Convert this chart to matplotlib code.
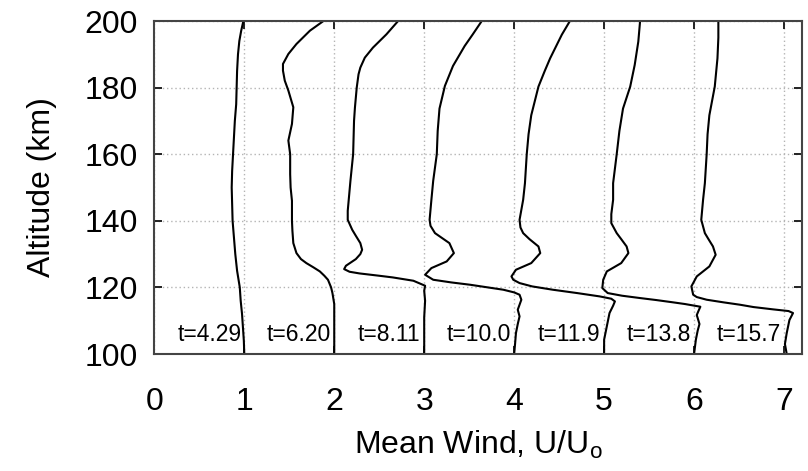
import matplotlib
matplotlib.use("Agg")
import matplotlib.pyplot as plt

plt.rcParams["font.family"] = ["Liberation Sans", "DejaVu Sans"]
plt.rcParams["mathtext.fontset"] = "custom"
plt.rcParams["mathtext.rm"] = "Liberation Sans"

# Mean wind profiles (U/U0) at successive times; each profile is shifted right by its index
times = ["4.29", "6.20", "8.11", "10.0", "11.9", "13.8", "15.7"]

alt_1 = [100, 104, 108, 112, 116, 120, 125, 130, 135, 140, 145, 150, 155, 160, 165,
         170, 175, 180, 185, 190, 194, 197, 200]
wind_1 = [1.0, 0.995, 0.985, 0.975, 0.96, 0.95, 0.92, 0.90, 0.885, 0.87, 0.865, 0.86,
          0.865, 0.875, 0.885, 0.895, 0.91, 0.915, 0.92, 0.93, 0.945, 0.965, 0.99]

alt_2 = [100, 110, 115, 118.3, 120, 122.3, 123.5, 124.8, 126, 127.3, 128.5, 130.3,
         133.3, 137, 140, 146, 150, 154, 160, 164.1, 169.1, 174.1, 179.1, 182.1,
         185.1, 187.1, 190.1, 193.1, 197.1, 200]
wind_2 = [1.0, 1.0, 1.0, 0.98, 0.965, 0.93, 0.89, 0.84, 0.77, 0.69, 0.63, 0.58,
          0.545, 0.535, 0.53, 0.53, 0.515, 0.51, 0.51, 0.49, 0.53, 0.545, 0.49, 0.45,
          0.43, 0.43, 0.49, 0.58, 0.73, 0.88]

alt_3 = [100, 105, 111, 116, 119, 120.5, 122, 123, 123.5, 124.2, 124.7, 125.5, 126.5,
         128.5, 130, 131.3, 133.3, 135.5, 137.3, 140.3, 143, 146, 152, 160, 170, 174,
         180, 184, 186, 189, 192, 196, 200]
wind_3 = [1.0, 1.0, 1.0, 1.01, 1.0, 1.01, 0.88, 0.65, 0.50, 0.28, 0.17, 0.11, 0.13,
          0.24, 0.29, 0.31, 0.29, 0.24, 0.20, 0.15, 0.15, 0.16, 0.18, 0.21, 0.22, 0.23,
          0.25, 0.27, 0.29, 0.34, 0.43, 0.58, 0.71]

alt_4 = [100, 103, 106.3, 109, 111.3, 113.3, 116.3, 117.8, 118.5, 119.3, 120.8, 121.5,
         122.3, 123.8, 125.8, 127.8, 130.3, 133.3, 136.3, 138.5, 140.3, 146.3, 152,
         160, 167, 173.7, 180.5, 186.5, 192.5, 196, 200]
wind_4 = [1.0, 1.01, 1.02, 1.04, 1.06, 1.04, 1.08, 1.06, 1.0, 0.88, 0.51, 0.30, 0.10,
          0.01, 0.08, 0.25, 0.33, 0.28, 0.12, 0.07, 0.06, 0.08, 0.10, 0.14, 0.15, 0.17,
          0.23, 0.32, 0.45, 0.54, 0.64]

alt_5 = [100, 104.3, 108.3, 112.3, 114.5, 115.8, 116.6, 117.3, 118.3, 119.3, 120.3,
         121.3, 122.3, 123.3, 125.3, 127.3, 130.3, 132.3, 134.5, 136.3, 138, 140.3,
         146.3, 151.3, 160, 166, 171.7, 180.3, 185, 188.8, 195.9, 200]
wind_5 = [1.0, 1.0, 1.03, 1.06, 1.10, 1.12, 1.08, 0.95, 0.70, 0.43, 0.20, 0.06, -0.01,
          -0.03, 0.02, 0.19, 0.29, 0.27, 0.17, 0.10, 0.07, 0.06, 0.10, 0.12, 0.14, 0.16,
          0.19, 0.27, 0.34, 0.40, 0.53, 0.62]

alt_6 = [100, 104.3, 107, 109, 111.7, 113, 114.2, 115, 115.5, 116.2, 116.8, 117.5,
         118.3, 119.8, 122.3, 124.8, 127.3, 130.3, 132.3, 134.5, 136.3, 139.3, 142,
         146.3, 151.3, 160, 167, 173.7, 180.3, 186.8, 193.8, 200]
wind_6 = [1.0, 1.02, 1.04, 1.06, 1.03, 1.05, 1.07, 0.90, 0.77, 0.58, 0.40, 0.20, 0.04,
          -0.02, -0.01, 0.03, 0.19, 0.27, 0.25, 0.19, 0.14, 0.08, 0.08, 0.10, 0.10,
          0.14, 0.17, 0.21, 0.29, 0.34, 0.38, 0.40]

alt_7 = [100, 103, 106.3, 110.2, 112.3, 112.9, 113.4, 114.1, 114.8, 115.5, 116.3,
         117.1, 117.8, 120.3, 123.3, 126.3, 129.8, 132.3, 134.5, 136.3, 140.3, 146.3,
         151.3, 160, 166, 171.7, 180.3, 188.8, 195, 200]
wind_7 = [1.03, 1.01, 1.03, 1.06, 1.10, 1.05, 0.88, 0.66, 0.51, 0.33, 0.14, 0.03,
          -0.01, -0.03, 0.03, 0.17, 0.24, 0.21, 0.16, 0.12, 0.08, 0.10, 0.12, 0.14,
          0.15, 0.17, 0.23, 0.26, 0.27, 0.27]

altitudes = [alt_1, alt_2, alt_3, alt_4, alt_5, alt_6, alt_7]
winds = [wind_1, wind_2, wind_3, wind_4, wind_5, wind_6, wind_7]

fig = plt.figure(figsize=(8.08, 4.71), dpi=100)
ax = fig.add_axes([0.191, 0.2484, 0.8016, 0.7070])

for i, (z, u) in enumerate(zip(altitudes, winds)):
    ax.plot([v + i for v in u], z, color="black", lw=1.5, solid_joinstyle="round")
    ax.text(i + 0.61, 106.0, "t=" + times[i], ha="center", va="center", fontsize=16.5)

ax.set_xlim(0, 7.2)
ax.set_ylim(100, 200)
ax.set_xticks(range(0, 8))
ax.set_yticks(range(100, 201, 20))
ax.grid(True, color="#b4b4b4", linestyle=(0, (1, 2)), lw=1.0)
ax.tick_params(direction="in", length=6, width=1.4, top=True, right=True,
               labelsize=23, color="#222222")
ax.tick_params(axis="x", pad=24)
ax.tick_params(axis="y", pad=12)
for s in ax.spines.values():
    s.set_color("#444444")
    s.set_linewidth(1.5)

ax.set_xlabel(r"Mean Wind, U/U$_{\mathrm{o}}$", fontsize=23, labelpad=8)
ax.set_ylabel("Altitude (km)", fontsize=23, labelpad=20)

fig.savefig("out.png", dpi=100)
